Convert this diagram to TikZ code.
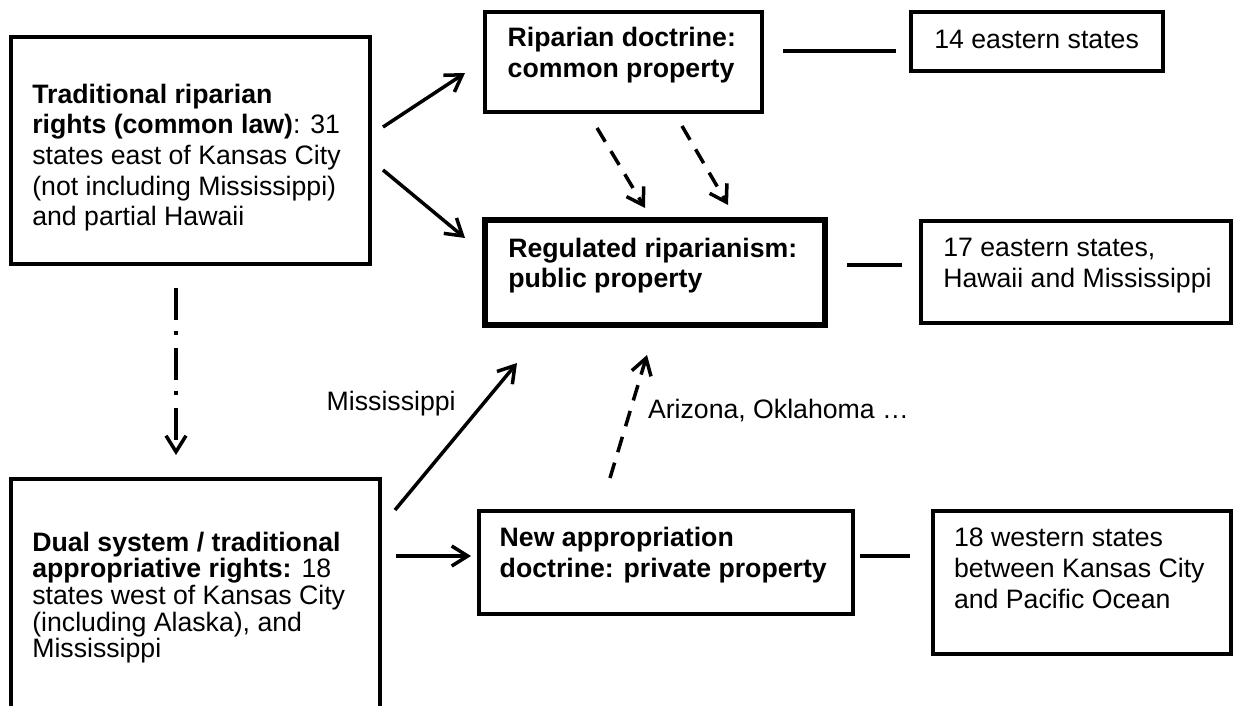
\documentclass[tikz,border=0pt]{standalone}
\usepackage{fontspec}
\setmainfont{Liberation Sans}
\usetikzlibrary{arrows.meta,calc}
\tikzset{
  box/.style={draw, line width=3.5pt, inner sep=0pt, outer sep=0pt, anchor=north west},
  thickbox/.style={box, line width=6pt},
  txt/.style={inner sep=0pt, outer sep=0pt, anchor=base west, font=\fontsize{26.67}{30.67}\selectfont},
  txtf/.style={txt, font=\fontsize{26.67}{26.67}\selectfont},
  conn/.style={line width=3.5pt},
  arr/.style={conn, -{Straight Barb[length=16pt,width=20pt]}},
  dasharr/.style={arr, dash pattern=on 16pt off 11pt},
  dotarr/.style={arr, dash pattern=on 32pt off 11pt on 4pt off 13pt}
}
\begin{document}
\begin{tikzpicture}[x=1pt,y=-1pt]
\useasboundingbox (0,0) rectangle (1233,706);
\clip (0,0) rectangle (1233,706);
% boxes
\node[box, minimum width=359pt, minimum height=227pt] (a) at (11,37) {};
\node[box, minimum width=277pt, minimum height=100pt] (b) at (485,12) {};
\node[thickbox, minimum width=340pt, minimum height=105pt] (c) at (485,220) {};
\node[box, minimum width=252pt, minimum height=59pt] (d) at (911,12) {};
\node[box, minimum width=310pt, minimum height=102pt] (e) at (921,221) {};
\node[box, minimum width=369pt, minimum height=260pt] (f) at (11,479) {};
\node[box, minimum width=374pt, minimum height=103pt] (g) at (479,511) {};
\node[box, minimum width=298pt, minimum height=143pt] (h) at (933,511) {};
% texts
\node[txt] (ta) at (32.3,103.3) {\parbox[t]{400pt}{\textbf{Traditional riparian}\\\textbf{rights (common law)}: 31\\states east of Kansas City\\(not including Mississippi)\\and partial Hawaii}};
\node[txt] (tb) at (507.7,46.7) {\parbox[t]{300pt}{\textbf{Riparian doctrine:}\\\textbf{common property}}};
\node[txt] (tc) at (508.3,257.3) {\parbox[t]{330pt}{\textbf{Regulated riparianism:}\\\textbf{public property}}};
\node[txt] (td) at (934.3,48.3) {14 eastern states};
\node[txt] (te) at (943.3,256.7) {\parbox[t]{300pt}{17 eastern states,\\Hawaii and Mississippi}};
\node[txtf] (tf) at (32.3,551) {\parbox[t]{400pt}{\textbf{Dual system / traditional}\\\textbf{appropriative rights:} 18\\states west of Kansas City\\(including Alaska), and\\Mississippi}};
\node[txt] (tg) at (499.7,546.7) {\parbox[t]{360pt}{\textbf{New appropriation}\\\textbf{doctrine: private property}}};
\node[txt] (th) at (954,546.7) {\parbox[t]{300pt}{18 western states\\between Kansas City\\and Pacific Ocean}};
\node[txt] (tm) at (326.7,410) {Mississippi};
\node[txt] (tz) at (648,418.3) {Arizona, Oklahoma …};
% connectors
\draw[arr] ($(a.north east)+(13,90)$) -- ($(b.south west)+(-20,-39)$);
\draw[arr] ($(a.north east)+(13,133)$) -- ($(c.north west)+(-20,18)$);
\draw[dasharr] ($(b.south west)+(112,16)$) -- ($(c.north west)+(160,-12)$);
\draw[dasharr] ($(b.south west)+(197,14)$) -- ($(c.north west)+(243,-15)$);
\draw[dotarr] ($(a.south west)+(165,24)$) -- ($(f.north west)+(165,-24)$);
\draw[arr] ($(f.north east)+(16,77)$) -- ($(g.north west)+(-8,45)$);
\draw[arr] ($(f.north east)+(15,31)$) -- ($(c.south west)+(32,38)$);
\draw[dasharr] ($(g.north west)+(131,-33)$) -- ($(c.south west)+(162,30)$);
\draw[conn] ($(b.north east)+(21,39)$) -- ($(d.north west)+(-15,39)$);
\draw[conn] ($(c.north east)+(22,45)$) -- ($(e.north west)+(-19,44)$);
\draw[conn] ($(g.north east)+(7,45)$) -- ($(h.north west)+(-23,45)$);
\end{tikzpicture}
\end{document}
